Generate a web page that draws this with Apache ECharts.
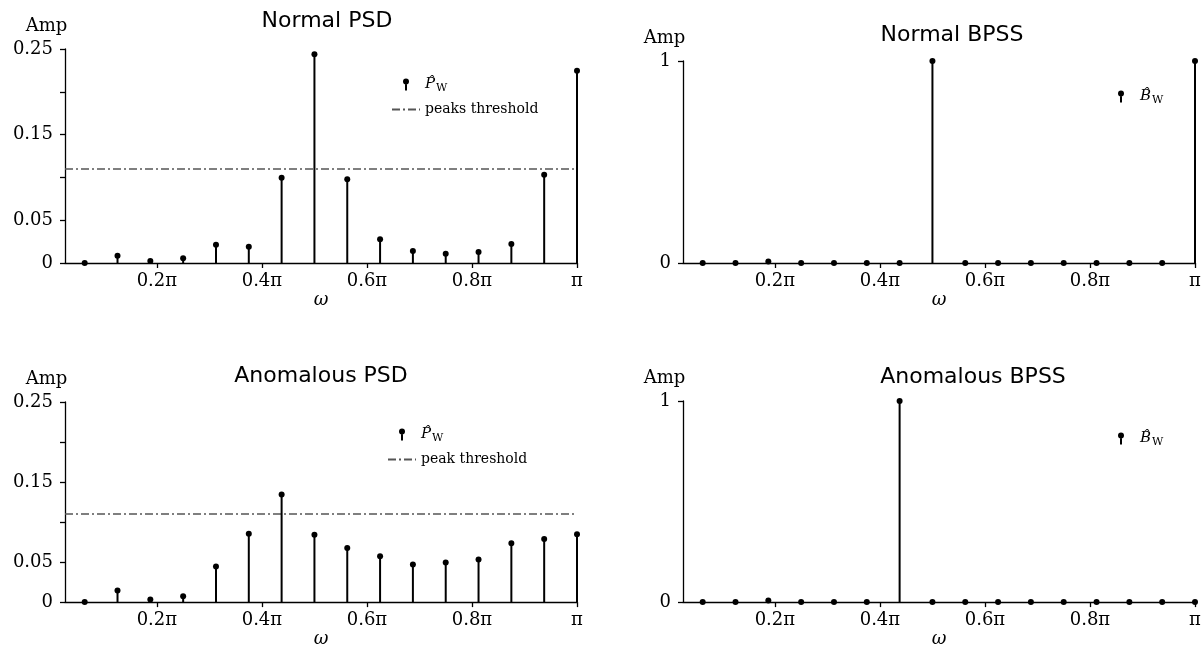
<!DOCTYPE html>
<html>
<head>
<meta charset="utf-8">
<title>PSD / BPSS</title>
<script src="https://cdn.jsdelivr.net/npm/echarts@6.0.0/dist/echarts.min.js"></script>
<style>
  html, body { margin: 0; padding: 0; background: #fff; }
  #chart { width: 1204px; height: 649px; }
</style>
</head>
<body>
<div id="chart"></div>
<script>
// frequency bins (in units of pi)
const omega = [0.0625, 0.125, 0.1875, 0.25, 0.3125, 0.375, 0.4375, 0.5,
  0.5625, 0.625, 0.6875, 0.75, 0.8125, 0.875, 0.9375, 1]

// amplitudes
const normalPsd = [0, 0.0085, 0.0023, 0.0055, 0.0214, 0.019, 0.0997, 0.244,
  0.0978, 0.0277, 0.014, 0.0109, 0.0128, 0.0222, 0.103, 0.2245]
const anomPsd = [0, 0.0145, 0.0033, 0.0074, 0.0446, 0.0855, 0.1345, 0.084,
  0.0677, 0.0574, 0.047, 0.0495, 0.0532, 0.0735, 0.0789, 0.0849]
const normalBpss = [0, 0, 0.008, 0, 0, 0, 0, 1, 0, 0, 0, 0, 0, 0, 0, 1]
const anomBpss = [0, 0, 0.008, 0, 0, 0, 1, 0, 0, 0, 0, 0, 0, 0, 0, 0]

// peak thresholds
const normalThreshold = 0.11
const anomThreshold = 0.11

// tick labels
const xTicks = [0.2, 0.4, 0.6, 0.8, 1]
const xTickLabels = ['0.2π', '0.4π', '0.6π', '0.8π', 'π']
const psdTicks = [0, 0.05, 0.1, 0.15, 0.2, 0.25]
const psdTickLabels = ['0', '0.05', '', '0.15', '', '0.25']
const bpssTicks = [0, 1]
const bpssTickLabels = ['0', '1']

const SERIF = 'DejaVu Serif'
const SANS = 'DejaVu Sans'
const STEM_ICON = 'path://M0,3 A3,3 0 1,1 6,3 A3,3 0 1,1 0,3 Z M2,3 L4,3 L4,12 L2,12 Z'

function pairs (ys) {
  return omega.map((x, i) => [x, ys[i]])
}

function pickLabel (ticks, labels, v) {
  for (let i = 0; i < ticks.length; i++) {
    if (Math.abs(ticks[i] - v) < 1e-6) return labels[i]
  }
  return ''
}

// one stem: line from 0 up to the value, dot on top
function renderStem (params, api) {
  const x = api.value(0)
  const y = api.value(1)
  const base = api.coord([x, 0])
  const top = api.coord([x, y])
  return {
    type: 'group',
    children: [
      {
        type: 'line',
        shape: { x1: base[0], y1: base[1], x2: top[0], y2: top[1] },
        style: { stroke: '#000', lineWidth: 2 }
      },
      {
        type: 'circle',
        shape: { cx: top[0], cy: top[1], r: 3 },
        style: { fill: '#000' }
      }
    ]
  }
}

const panels = [
  {
    title: 'Normal PSD', titleX: 327, titleY: 10,
    grid: { left: 65, right: 627, top: 49, bottom: 386 },
    yMax: 0.25, yStep: 0.05, ticks: psdTicks, labels: psdTickLabels,
    stemName: 'P normal', values: normalPsd,
    thrName: 'peaks threshold', threshold: normalThreshold,
    legend: { left: 391, top: 77 }
  },
  {
    title: 'Normal BPSS', titleX: 952, titleY: 24,
    grid: { left: 683, right: 9, top: 61, bottom: 386 },
    yMax: 1, yStep: 1, ticks: bpssTicks, labels: bpssTickLabels,
    stemName: 'B normal', values: normalBpss,
    legend: { left: 1118, top: 89 }
  },
  {
    title: 'Anomalous PSD', titleX: 321, titleY: 365,
    grid: { left: 65, right: 627, top: 402, bottom: 46 },
    yMax: 0.25, yStep: 0.05, ticks: psdTicks, labels: psdTickLabels,
    stemName: 'P anomalous', values: anomPsd,
    thrName: 'peak threshold', threshold: anomThreshold,
    legend: { left: 387, top: 427 }
  },
  {
    title: 'Anomalous BPSS', titleX: 973, titleY: 366,
    grid: { left: 683, right: 9, top: 401, bottom: 46 },
    yMax: 1, yStep: 1, ticks: bpssTicks, labels: bpssTickLabels,
    stemName: 'B anomalous', values: anomBpss,
    legend: { left: 1118, top: 431 }
  }
]

const axisLineStyle = { color: '#000', width: 1.3 }

const option = {
  animation: false,
  backgroundColor: '#fff',
  title: [],
  grid: [],
  xAxis: [],
  yAxis: [],
  legend: [],
  series: []
}

panels.forEach((p, i) => {
  option.title.push({
    text: p.title,
    left: p.titleX,
    top: p.titleY,
    textAlign: 'center',
    padding: 0,
    textStyle: { fontFamily: SANS, fontSize: 22, fontWeight: 'normal', color: '#000' }
  })
  option.grid.push(p.grid)
  option.xAxis.push({
    gridIndex: i,
    type: 'value',
    min: 0.025,
    max: 1,
    name: 'ω',
    nameLocation: 'middle',
    nameGap: 22,
    nameTextStyle: { fontFamily: SERIF, fontStyle: 'italic', fontSize: 18, color: '#000' },
    axisLine: { show: true, onZero: false, lineStyle: axisLineStyle },
    axisTick: { show: true, customValues: xTicks, length: 5, lineStyle: axisLineStyle },
    axisLabel: {
      customValues: xTicks,
      margin: 9,
      fontFamily: SERIF,
      fontSize: 18,
      color: '#000',
      formatter: v => pickLabel(xTicks, xTickLabels, v)
    },
    splitLine: { show: false }
  })
  option.yAxis.push({
    gridIndex: i,
    type: 'value',
    min: 0,
    max: p.yMax,
    interval: p.yStep,
    name: 'Amp',
    nameLocation: 'end',
    nameGap: 14,
    nameTextStyle: { fontFamily: SERIF, fontSize: 18, color: '#000', align: 'center', padding: [0, 37, 0, 0] },
    axisLine: { show: true, lineStyle: axisLineStyle },
    axisTick: { show: true, length: 5, lineStyle: axisLineStyle },
    axisLabel: {
      margin: 12,
      fontFamily: SERIF,
      fontSize: 18,
      color: '#000',
      formatter: v => pickLabel(p.ticks, p.labels, v)
    },
    splitLine: { show: false }
  })

  const legendData = [{ name: p.stemName, icon: STEM_ICON, itemStyle: { color: '#000' } }]
  option.series.push({
    name: p.stemName,
    type: 'custom',
    xAxisIndex: i,
    yAxisIndex: i,
    clip: false,
    z: 5,
    itemStyle: { color: '#000' },
    encode: { x: 0, y: 1 },
    renderItem: renderStem,
    data: pairs(p.values)
  })

  if (p.thrName) {
    const dash = { color: '#555', width: 1.5, type: [8, 3, 2, 3] }
    // hide the legend symbol, keep only the dash-dot line
    legendData.push({ name: p.thrName, itemStyle: { opacity: 0 } })
    option.series.push({
      name: p.thrName,
      type: 'line',
      xAxisIndex: i,
      yAxisIndex: i,
      symbol: 'none',
      showSymbol: false,
      color: '#555',
      lineStyle: dash,
      data: [],
      markLine: {
        silent: true,
        symbol: ['none', 'none'],
        label: { show: false },
        lineStyle: dash,
        data: [{ yAxis: p.threshold }]
      }
    })
  }

  option.legend.push({
    orient: 'vertical',
    left: p.legend.left,
    top: p.legend.top,
    padding: 0,
    itemWidth: 28,
    itemHeight: 12,
    itemGap: 9,
    align: 'left',
    selectedMode: false,
    data: legendData,
    formatter: name => {
      if (name === p.stemName) {
        return '{hat|' + name.charAt(0) + '\u0302}{sub|W}'
      }
      return name
    },
    textStyle: {
      fontFamily: SERIF,
      fontSize: 14,
      color: '#000',
      rich: {
        hat: { fontFamily: SERIF, fontStyle: 'italic', fontSize: 15, color: '#000' },
        sub: { fontFamily: SERIF, fontSize: 11, color: '#000', padding: [7, 0, 0, 1] }
      }
    }
  })
})

const chart = echarts.init(document.getElementById('chart'))
chart.setOption(option)
</script>
</body>
</html>
